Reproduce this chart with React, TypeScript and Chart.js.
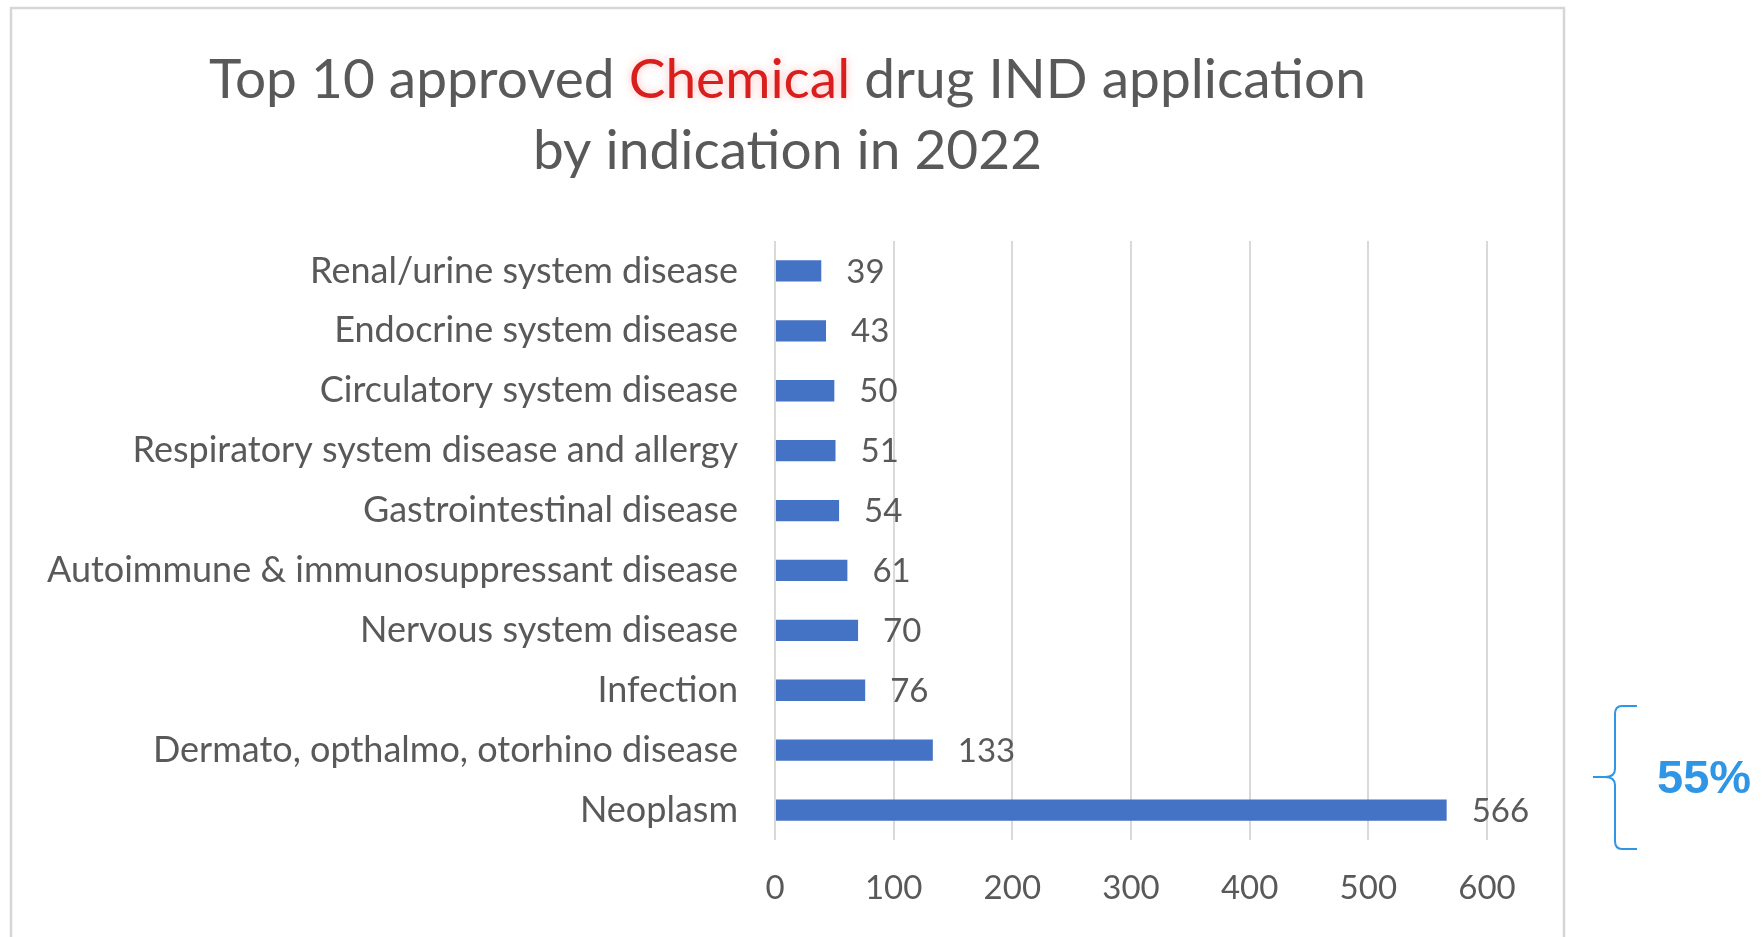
import { useEffect, useRef } from "react";
import { Chart, registerables } from "chart.js";

Chart.register(...registerables);

// Indications, top to bottom as listed on the category axis
const indications = [
  "Renal/urine system disease",
  "Endocrine system disease",
  "Circulatory system disease",
  "Respiratory system disease and allergy",
  "Gastrointestinal disease",
  "Autoimmune & immunosuppressant disease",
  "Nervous system disease",
  "Infection",
  "Dermato, opthalmo, otorhino disease",
  "Neoplasm",
];

// Approved IND applications per indication
const approvals = [39, 43, 50, 51, 54, 61, 70, 76, 133, 566];

// Value axis range and step
const valueMin = 0;
const valueMax = 600;
const valueStep = 100;

// Title, with the highlighted word split out
const titleLine1 = [
  { text: "Top 10 approved ", highlight: false },
  { text: "Chemical", highlight: true },
  { text: " drug IND application", highlight: false },
];
const titleLine2 = "by indication in 2022";

// Share called out next to the brace
const shareLabel = "55%";

const GREY_TEXT = "#595959";
const RED_TEXT = "#d91e1e";
const BAR_BLUE = "#4472C4";
const GRID_GREY = "#d9d9d9";
const FRAME_GREY = "#d6d6d6";
const ACCENT_BLUE = "#2f95e5";
const FONT = "Lato, 'Open Sans', sans-serif";

const decorPlugin = {
  id: "decor",
  beforeDraw(chart: any) {
    const ctx: CanvasRenderingContext2D = chart.ctx;
    ctx.save();
    // chart frame (open at the bottom edge of the page)
    ctx.strokeStyle = FRAME_GREY;
    ctx.lineWidth = 2.5;
    ctx.strokeRect(11, 8, 1553, 1000);

    // two-line title, centred in the frame
    const cx = 787.5;
    ctx.font = `55px ${FONT}`;
    ctx.textBaseline = "middle";
    ctx.textAlign = "left";
    const widths = titleLine1.map((s) => ctx.measureText(s.text).width);
    const total = widths.reduce((a, b) => a + b, 0);
    let x = cx - total / 2;
    titleLine1.forEach((seg, i) => {
      ctx.save();
      if (seg.highlight) {
        ctx.shadowColor = "rgba(255, 110, 110, 0.45)";
        ctx.shadowBlur = 8;
        ctx.fillStyle = RED_TEXT;
      } else {
        ctx.fillStyle = GREY_TEXT;
      }
      ctx.fillText(seg.text, x, 80);
      ctx.restore();
      x += widths[i];
    });
    ctx.fillStyle = GREY_TEXT;
    ctx.textAlign = "center";
    ctx.fillText(titleLine2, cx, 151);
    ctx.restore();
  },
  afterDatasetsDraw(chart: any) {
    const ctx: CanvasRenderingContext2D = chart.ctx;
    const meta = chart.getDatasetMeta(0);
    const values = chart.data.datasets[0].data as number[];
    ctx.save();
    ctx.font = `33px ${FONT}`;
    ctx.fillStyle = GREY_TEXT;
    ctx.textAlign = "left";
    ctx.textBaseline = "middle";
    meta.data.forEach((bar: any, i: number) => {
      ctx.fillText(String(values[i]), bar.x + 25, bar.y + 1);
    });
    ctx.restore();
  },
  afterDraw(chart: any) {
    const ctx: CanvasRenderingContext2D = chart.ctx;
    ctx.save();
    // curly brace
    ctx.strokeStyle = ACCENT_BLUE;
    ctx.lineWidth = 2;
    ctx.beginPath();
    ctx.moveTo(1637, 706);
    ctx.lineTo(1622, 706);
    ctx.quadraticCurveTo(1615, 706, 1615, 714);
    ctx.lineTo(1615, 769);
    ctx.quadraticCurveTo(1615, 777, 1605, 777);
    ctx.lineTo(1593, 777);
    ctx.moveTo(1605, 777);
    ctx.quadraticCurveTo(1615, 777, 1615, 785);
    ctx.lineTo(1615, 841);
    ctx.quadraticCurveTo(1615, 849, 1622, 849);
    ctx.lineTo(1637, 849);
    ctx.stroke();

    ctx.font = `bold 47px 'Liberation Sans', Arial, sans-serif`;
    ctx.fillStyle = ACCENT_BLUE;
    ctx.textAlign = "left";
    ctx.textBaseline = "middle";
    ctx.fillText(shareLabel, 1657, 780);
    ctx.restore();
  },
};

export default function App() {
  const canvasRef = useRef<HTMLCanvasElement | null>(null);

  useEffect(() => {
    const canvas = canvasRef.current;
    if (!canvas) return;
    const chart = new Chart(canvas, {
      type: "bar",
      data: {
        labels: indications,
        datasets: [
          {
            data: approvals,
            backgroundColor: BAR_BLUE,
            borderWidth: 0,
            barPercentage: 0.355,
            categoryPercentage: 1,
          },
        ],
      },
      options: {
        indexAxis: "y",
        animation: false,
        responsive: false,
        events: [],
        layout: { padding: { top: 241, right: 275, bottom: 0, left: 0 } },
        plugins: {
          legend: { display: false },
          tooltip: { enabled: false },
          title: { display: false },
        },
        scales: {
          x: {
            min: valueMin,
            max: valueMax,
            border: { display: false },
            grid: { color: GRID_GREY, lineWidth: 2, drawTicks: false },
            ticks: {
              stepSize: valueStep,
              padding: 29,
              color: GREY_TEXT,
              font: { family: FONT, size: 33 },
            },
            afterFit: (scale: any) => {
              scale.height = 97;
            },
          },
          y: {
            border: { display: false },
            grid: { display: false, drawTicks: false },
            ticks: {
              padding: 37,
              autoSkip: false,
              color: GREY_TEXT,
              font: { family: FONT, size: 36 },
            },
            afterFit: (scale: any) => {
              scale.width = 775;
            },
          },
        },
      },
      plugins: [decorPlugin],
    });
    return () => chart.destroy();
  }, []);

  return (
    <div style={{ position: "fixed", left: 0, top: 0, width: 1762, height: 937, background: "#fff" }}>
      <canvas ref={canvasRef} width={1762} height={937} style={{ display: "block" }} />
    </div>
  );
}
